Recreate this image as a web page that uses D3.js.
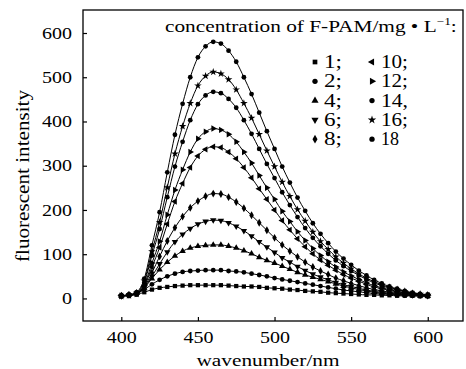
<!DOCTYPE html>
<html>
<head>
<meta charset="utf-8">
<script src="https://cdn.jsdelivr.net/npm/d3@7"></script>
<style>
  body { margin: 0; background: #fff; }
  svg text { font-family: "Liberation Serif", "Times New Roman", serif; fill: #000; }
</style>
</head>
<body>
<div id="chart"></div>
<script>
// wavelength (nm) of each sample
const wavelengths = [400,405,410,415,420,425,430,435,440,445,450,455,460,465,470,475,480,485,490,495,
                     500,505,510,515,520,525,530,535,540,545,550,555,560,565,570,575,580,585,590,595,600];

// fluorescent intensity for each F-PAM concentration (mg/L)
const conc1  = [6,7,9,14,20,24,26,28,29,30,30,30,30,30,29,28,27,27,26,24,23,22,20,19,17,16,15,13,12,11,10,9,8,8,7,7,6,6,6,5,5];
const conc2  = [6,8,11,20,32,42,50,56,60,62,63,64,64,64,62,61,59,56,53,50,46,43,40,37,34,31,28,25,22,19,17,15,13,11,10,9,8,7,6,6,5];
const conc4  = [6,8,12,24,45,65,82,96,107,114,118,120,121,121,118,114,108,101,93,86,80,73,66,59,53,48,43,38,33,28,24,20,17,14,12,10,9,8,7,6,5];
const conc6  = [6,8,12,25,50,78,105,128,145,158,168,174,177,176,171,163,153,141,128,116,104,92,82,72,63,55,48,42,36,31,27,23,19,16,14,12,10,9,8,7,6];
const conc8  = [6,8,12,26,58,95,130,160,185,205,220,231,237,236,229,218,204,188,171,154,137,121,107,94,82,71,62,54,46,40,34,29,24,20,17,14,12,10,9,8,7];
const conc10 = [6,7,10,27,71,115,168,219,260,296,322,337,343,341,331,316,296,273,248,224,200,176,155,135,117,101,87,75,64,54,46,39,32,26,22,18,15,12,10,8,7];
const conc12 = [6,7,10,30,80,129,189,245,291,331,361,377,384,381,371,354,331,306,278,250,224,197,174,151,131,113,97,83,71,60,51,43,35,29,24,20,16,13,10,8,7];
const conc14 = [5,7,11,36,97,157,229,298,354,403,439,459,467,464,451,431,403,372,338,304,272,240,211,184,159,137,118,101,86,73,62,52,43,35,29,23,19,15,12,9,8];
const conc16 = [5,7,12,40,106,172,251,327,389,441,481,503,512,508,495,472,441,408,371,334,298,263,231,201,175,150,129,111,94,80,67,56,46,38,31,25,20,16,12,10,8];
const conc18 = [5,8,14,45,120,195,285,370,440,500,545,570,580,576,560,535,500,462,420,378,338,298,262,228,198,170,146,125,106,90,76,63,52,42,34,27,22,17,13,10,8];

const seriesValues = [conc1, conc2, conc4, conc6, conc8, conc10, conc12, conc14, conc16, conc18];
const legendLabels = ["1;", "2;", "4;", "6;", "8;", "10;", "12;", "14,", "16;", "18"];
const xTicks = [400, 450, 500, 550, 600];
const yTicks = [0, 100, 200, 300, 400, 500, 600];

// marker shape per series: [symbol type, rotation]
const markers = [
  [d3.symbolSquare, 0], [d3.symbolCircle, 0], [d3.symbolTriangle, 0], [d3.symbolTriangle, 180],
  [d3.symbolDiamond, 0], [d3.symbolTriangle, -90], [d3.symbolTriangle, 90], [d3.symbolCircle, 0],
  [d3.symbolStar, 0], [d3.symbolCircle, 0]
];

const width = 466, height = 369;
const box = {left: 83, right: 463, top: 10, bottom: 321};

const svg = d3.select("#chart").append("svg")
  .attr("width", width)
  .attr("height", height);

const x = d3.scaleLinear().domain([375, 623]).range([box.left, box.right]);
const y = d3.scaleLinear().domain([-51, 652]).range([box.bottom, box.top]);

// the source font is wide: squeeze/stretch text to a width per character
function fitChars(sel, perChar) {
  sel.each(function() {
    const n = this.textContent.length;
    d3.select(this).attr("textLength", n * perChar).attr("lengthAdjust", "spacingAndGlyphs");
  });
}

// axes
const xAxis = d3.axisBottom(x).tickValues(xTicks).tickSizeInner(-4).tickSizeOuter(0).tickPadding(11);
const yAxis = d3.axisLeft(y).tickValues(yTicks).tickSizeInner(-4).tickSizeOuter(0).tickPadding(11);

const gx = svg.append("g")
  .attr("transform", "translate(0," + box.bottom + ")")
  .call(xAxis);
const gy = svg.append("g")
  .attr("transform", "translate(" + box.left + ",0)")
  .call(yAxis);

[gx, gy].forEach(g => {
  g.attr("font-family", null).attr("font-size", 16);
  g.select(".domain").remove();
  g.selectAll(".tick line").attr("stroke", "#000").attr("stroke-width", 1.2);
  fitChars(g.selectAll(".tick text"), 10);
});

// frame
svg.append("rect")
  .attr("x", box.left)
  .attr("y", box.top)
  .attr("width", box.right - box.left)
  .attr("height", box.bottom - box.top)
  .attr("fill", "none")
  .attr("stroke", "#000")
  .attr("stroke-width", 1.3);

// curves
const line = d3.line()
  .x((d, i) => x(wavelengths[i]))
  .y(d => y(d))
  .curve(d3.curveMonotoneX);

seriesValues.forEach((vals, s) => {
  const g = svg.append("g").attr("class", "series");
  g.append("path")
    .attr("d", line(vals))
    .attr("fill", "none")
    .attr("stroke", "#000")
    .attr("stroke-width", 1);

  const sym = d3.symbol().type(markers[s][0]).size(18);
  g.selectAll("path.pt")
    .data(vals)
    .enter().append("path")
    .attr("class", "pt")
    .attr("d", sym)
    .attr("fill", "#000")
    .attr("transform", (d, i) => "translate(" + x(wavelengths[i]) + "," + y(d) + ") rotate(" + markers[s][1] + ")");
});

// axis titles
svg.append("text")
  .attr("x", 268)
  .attr("y", 366)
  .attr("text-anchor", "middle")
  .attr("font-size", 17)
  .attr("textLength", 143)
  .attr("lengthAdjust", "spacingAndGlyphs")
  .text("wavenumber/nm");

svg.append("text")
  .attr("transform", "translate(29,176) rotate(-90)")
  .attr("text-anchor", "middle")
  .attr("font-size", 18)
  .attr("textLength", 172)
  .attr("lengthAdjust", "spacingAndGlyphs")
  .text("fluorescent intensity");

// legend
const title = svg.append("g");
const tt = title.append("text")
  .attr("x", 0)
  .attr("y", 0)
  .attr("font-size", 16);
tt.append("tspan").text("concentration of F-PAM/mg \u2022 L");
tt.append("tspan").attr("font-size", 10).attr("dy", -7).text("\u22121");
tt.append("tspan").attr("dy", 7).text(":");
const tw = tt.node().getComputedTextLength();
title.attr("transform", "translate(165,32) scale(" + (292 / tw) + ",1)");

const legend = svg.append("g");
legendLabels.forEach((lab, i) => {
  const col = Math.floor(i / 5), row = i % 5;
  const mx = col === 0 ? 315 : 372;
  const my = 62 + row * 19.3;
  legend.append("path")
    .attr("d", d3.symbol().type(markers[i][0]).size(22))
    .attr("fill", "#000")
    .attr("transform", "translate(" + mx + "," + my + ") rotate(" + markers[i][1] + ")");
  legend.append("text")
    .attr("x", mx + 9)
    .attr("y", my + 6)
    .attr("font-size", 18)
    .text(lab)
    .call(t => fitChars(t, 9));
});
</script>
</body>
</html>
